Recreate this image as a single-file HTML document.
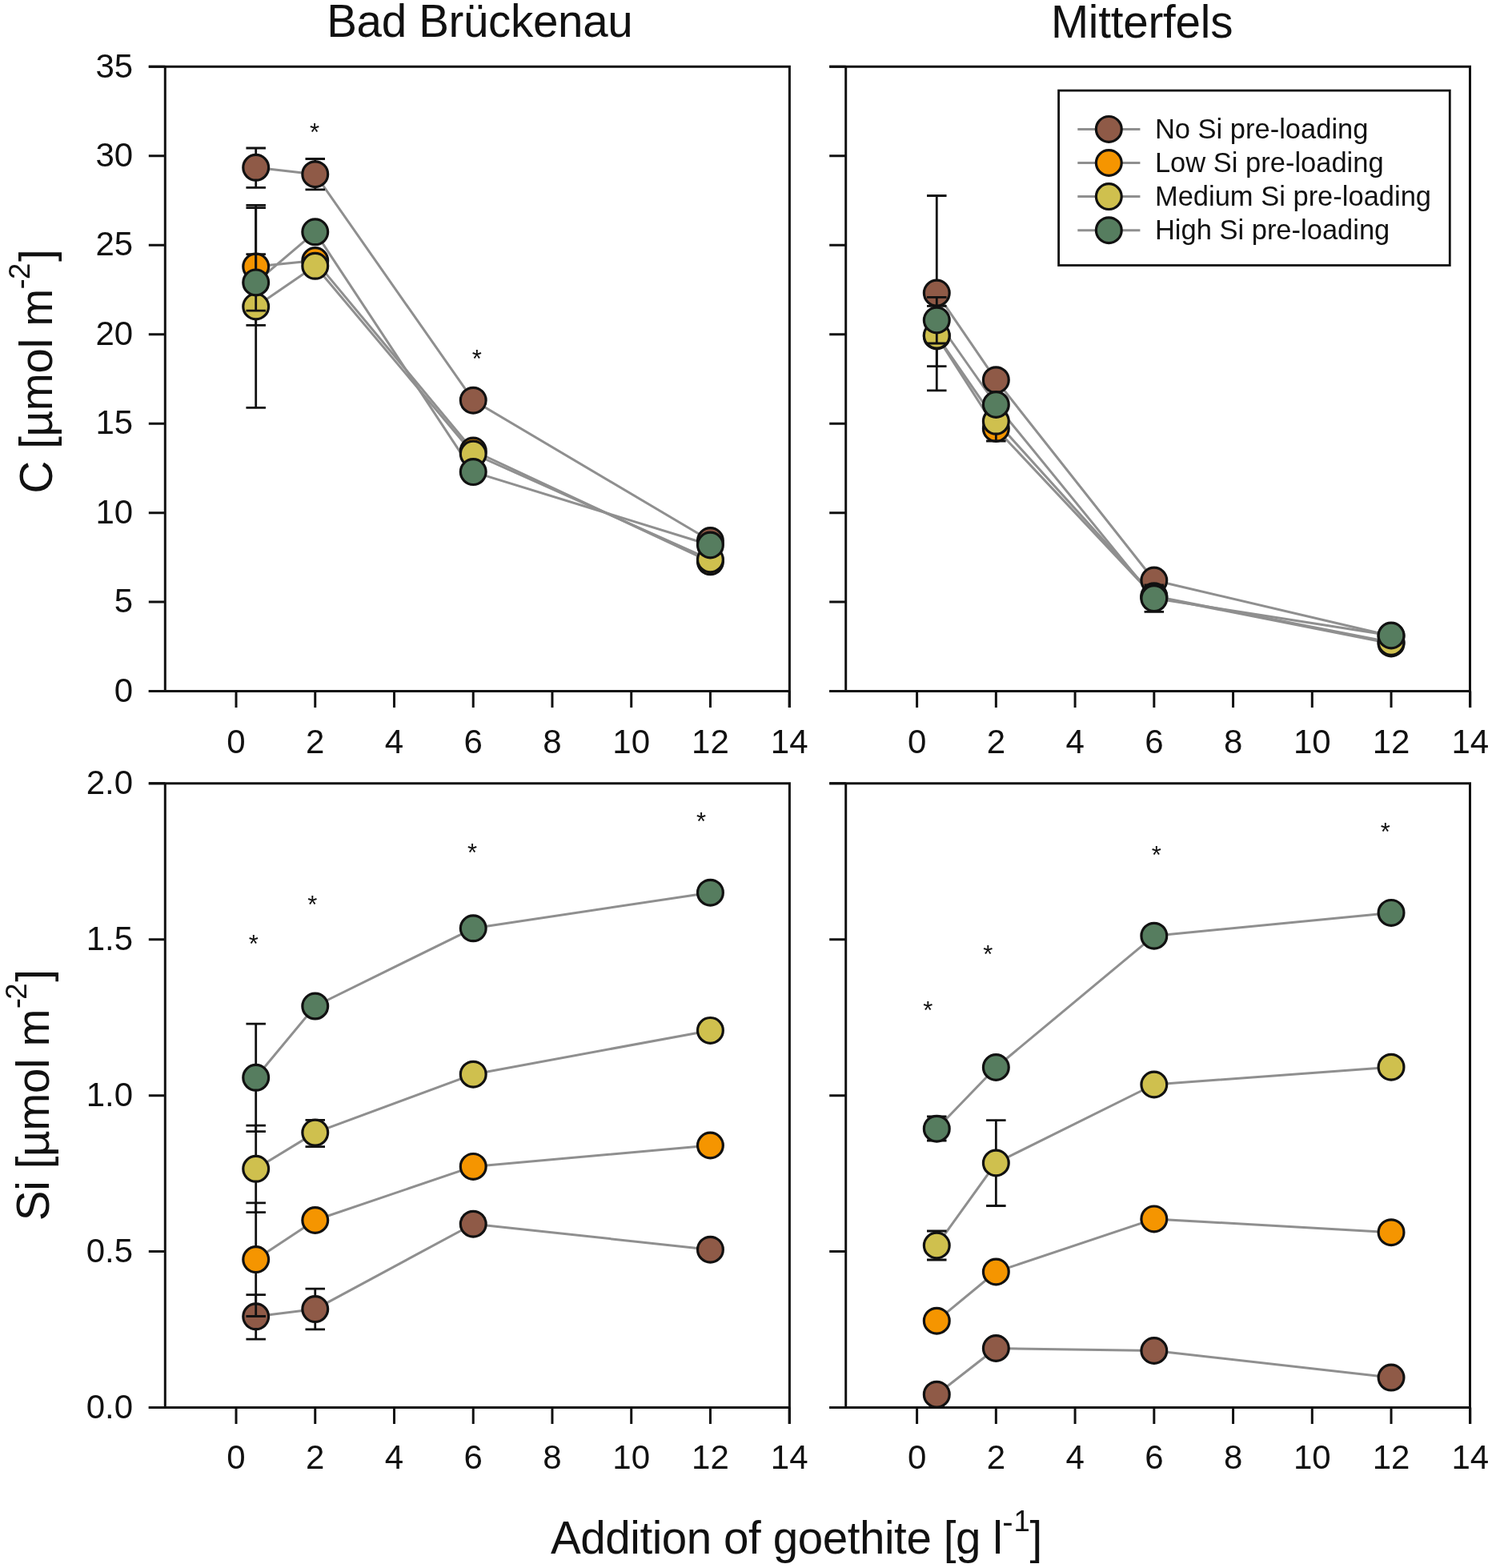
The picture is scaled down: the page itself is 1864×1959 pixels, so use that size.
<!DOCTYPE html>
<html><head><meta charset="utf-8"><title>Goethite C and Si</title>
<style>
html,body{margin:0;padding:0;background:#fff;}
svg{display:block;}
text{font-family:'Liberation Sans', Arial, sans-serif;fill:#111111;}
</style></head>
<body>
<svg width="1864" height="1959" viewBox="0 0 1864 1959">
<rect width="1864" height="1959" fill="#fff"/>
<path d="M206.3 83.2H986.4V884.1M185.8 863.6H986.4M206.3 83.2V863.6M185.8 83.2H206.3" fill="none" stroke="#111111" stroke-width="3.0" stroke-linecap="butt"/>
<path d="M185.8 863.6H206.3M185.8 752.11H206.3M185.8 640.63H206.3M185.8 529.14H206.3M185.8 417.66H206.3M185.8 306.17H206.3M185.8 194.69H206.3M185.8 83.2H206.3M295 863.6V884.1M393.74 863.6V884.1M492.48 863.6V884.1M591.22 863.6V884.1M689.96 863.6V884.1M788.7 863.6V884.1M887.44 863.6V884.1M986.18 863.6V884.1" fill="none" stroke="#111111" stroke-width="3.0"/>
<text x="166.1" y="876.9" text-anchor="end" font-size="42">0</text>
<text x="166.1" y="765.41" text-anchor="end" font-size="42">5</text>
<text x="166.1" y="653.93" text-anchor="end" font-size="42">10</text>
<text x="166.1" y="542.44" text-anchor="end" font-size="42">15</text>
<text x="166.1" y="430.96" text-anchor="end" font-size="42">20</text>
<text x="166.1" y="319.47" text-anchor="end" font-size="42">25</text>
<text x="166.1" y="207.99" text-anchor="end" font-size="42">30</text>
<text x="166.1" y="96.5" text-anchor="end" font-size="42">35</text>
<text x="295" y="940.5" text-anchor="middle" font-size="42">0</text>
<text x="393.74" y="940.5" text-anchor="middle" font-size="42">2</text>
<text x="492.48" y="940.5" text-anchor="middle" font-size="42">4</text>
<text x="591.22" y="940.5" text-anchor="middle" font-size="42">6</text>
<text x="689.96" y="940.5" text-anchor="middle" font-size="42">8</text>
<text x="788.7" y="940.5" text-anchor="middle" font-size="42">10</text>
<text x="887.44" y="940.5" text-anchor="middle" font-size="42">12</text>
<text x="986.18" y="940.5" text-anchor="middle" font-size="42">14</text>
<path d="M1056.7 83.2H1836.5V884.1M1036.2 863.6H1836.5M1056.7 83.2V863.6M1036.2 83.2H1056.7" fill="none" stroke="#111111" stroke-width="3.0" stroke-linecap="butt"/>
<path d="M1036.2 863.6H1056.7M1036.2 752.11H1056.7M1036.2 640.63H1056.7M1036.2 529.14H1056.7M1036.2 417.66H1056.7M1036.2 306.17H1056.7M1036.2 194.69H1056.7M1036.2 83.2H1056.7M1145.6 863.6V884.1M1244.34 863.6V884.1M1343.08 863.6V884.1M1441.82 863.6V884.1M1540.56 863.6V884.1M1639.3 863.6V884.1M1738.04 863.6V884.1M1836.78 863.6V884.1" fill="none" stroke="#111111" stroke-width="3.0"/>
<text x="1145.6" y="940.5" text-anchor="middle" font-size="42">0</text>
<text x="1244.34" y="940.5" text-anchor="middle" font-size="42">2</text>
<text x="1343.08" y="940.5" text-anchor="middle" font-size="42">4</text>
<text x="1441.82" y="940.5" text-anchor="middle" font-size="42">6</text>
<text x="1540.56" y="940.5" text-anchor="middle" font-size="42">8</text>
<text x="1639.3" y="940.5" text-anchor="middle" font-size="42">10</text>
<text x="1738.04" y="940.5" text-anchor="middle" font-size="42">12</text>
<text x="1836.78" y="940.5" text-anchor="middle" font-size="42">14</text>
<path d="M206.3 978.7H986.4V1779.1M185.8 1758.6H986.4M206.3 978.7V1758.6M185.8 978.7H206.3" fill="none" stroke="#111111" stroke-width="3.0" stroke-linecap="butt"/>
<path d="M185.8 1758.6H206.3M185.8 1563.62H206.3M185.8 1368.65H206.3M185.8 1173.67H206.3M185.8 978.7H206.3M295 1758.6V1779.1M393.74 1758.6V1779.1M492.48 1758.6V1779.1M591.22 1758.6V1779.1M689.96 1758.6V1779.1M788.7 1758.6V1779.1M887.44 1758.6V1779.1M986.18 1758.6V1779.1" fill="none" stroke="#111111" stroke-width="3.0"/>
<text x="166.1" y="1771.9" text-anchor="end" font-size="42">0.0</text>
<text x="166.1" y="1576.92" text-anchor="end" font-size="42">0.5</text>
<text x="166.1" y="1381.95" text-anchor="end" font-size="42">1.0</text>
<text x="166.1" y="1186.97" text-anchor="end" font-size="42">1.5</text>
<text x="166.1" y="992" text-anchor="end" font-size="42">2.0</text>
<text x="295" y="1835.4" text-anchor="middle" font-size="42">0</text>
<text x="393.74" y="1835.4" text-anchor="middle" font-size="42">2</text>
<text x="492.48" y="1835.4" text-anchor="middle" font-size="42">4</text>
<text x="591.22" y="1835.4" text-anchor="middle" font-size="42">6</text>
<text x="689.96" y="1835.4" text-anchor="middle" font-size="42">8</text>
<text x="788.7" y="1835.4" text-anchor="middle" font-size="42">10</text>
<text x="887.44" y="1835.4" text-anchor="middle" font-size="42">12</text>
<text x="986.18" y="1835.4" text-anchor="middle" font-size="42">14</text>
<path d="M1056.7 978.7H1836.5V1779.1M1036.2 1758.6H1836.5M1056.7 978.7V1758.6M1036.2 978.7H1056.7" fill="none" stroke="#111111" stroke-width="3.0" stroke-linecap="butt"/>
<path d="M1036.2 1758.6H1056.7M1036.2 1563.62H1056.7M1036.2 1368.65H1056.7M1036.2 1173.67H1056.7M1036.2 978.7H1056.7M1145.6 1758.6V1779.1M1244.34 1758.6V1779.1M1343.08 1758.6V1779.1M1441.82 1758.6V1779.1M1540.56 1758.6V1779.1M1639.3 1758.6V1779.1M1738.04 1758.6V1779.1M1836.78 1758.6V1779.1" fill="none" stroke="#111111" stroke-width="3.0"/>
<text x="1145.6" y="1835.4" text-anchor="middle" font-size="42">0</text>
<text x="1244.34" y="1835.4" text-anchor="middle" font-size="42">2</text>
<text x="1343.08" y="1835.4" text-anchor="middle" font-size="42">4</text>
<text x="1441.82" y="1835.4" text-anchor="middle" font-size="42">6</text>
<text x="1540.56" y="1835.4" text-anchor="middle" font-size="42">8</text>
<text x="1639.3" y="1835.4" text-anchor="middle" font-size="42">10</text>
<text x="1738.04" y="1835.4" text-anchor="middle" font-size="42">12</text>
<text x="1836.78" y="1835.4" text-anchor="middle" font-size="42">14</text>
<polyline points="319.69,209.3 393.74,217.7 591.22,500.2 887.44,675.5" fill="none" stroke="#8f8f8f" stroke-width="3.0" stroke-linejoin="round"/>
<polyline points="319.69,333 393.74,325.6 591.22,563 887.44,701.8" fill="none" stroke="#8f8f8f" stroke-width="3.0" stroke-linejoin="round"/>
<polyline points="319.69,383 393.74,332.3 591.22,567 887.44,699" fill="none" stroke="#8f8f8f" stroke-width="3.0" stroke-linejoin="round"/>
<polyline points="319.69,352.9 393.74,289.8 591.22,589.6 887.44,681" fill="none" stroke="#8f8f8f" stroke-width="3.0" stroke-linejoin="round"/>
<path d="M319.69 185V234.4M307.44 185H331.94M307.44 234.4H331.94" fill="none" stroke="#111111" stroke-width="2.8"/>
<path d="M393.74 198.5V236.8M381.49 198.5H405.99M381.49 236.8H405.99" fill="none" stroke="#111111" stroke-width="2.8"/>
<circle cx="319.69" cy="209.3" r="15.9" fill="#8f5a47" stroke="#111111" stroke-width="3.2"/>
<circle cx="393.74" cy="217.7" r="15.9" fill="#8f5a47" stroke="#111111" stroke-width="3.2"/>
<circle cx="591.22" cy="500.2" r="15.9" fill="#8f5a47" stroke="#111111" stroke-width="3.2"/>
<circle cx="887.44" cy="675.5" r="15.9" fill="#8f5a47" stroke="#111111" stroke-width="3.2"/>
<path d="M319.69 256.4V406.4M307.44 256.4H331.94M307.44 406.4H331.94" fill="none" stroke="#111111" stroke-width="2.8"/>
<circle cx="319.69" cy="333" r="15.9" fill="#f59500" stroke="#111111" stroke-width="3.2"/>
<circle cx="393.74" cy="325.6" r="15.9" fill="#f59500" stroke="#111111" stroke-width="3.2"/>
<circle cx="591.22" cy="563" r="15.9" fill="#f59500" stroke="#111111" stroke-width="3.2"/>
<circle cx="887.44" cy="701.8" r="15.9" fill="#f59500" stroke="#111111" stroke-width="3.2"/>
<path d="M319.69 259.6V509.4M307.44 259.6H331.94M307.44 509.4H331.94" fill="none" stroke="#111111" stroke-width="2.8"/>
<circle cx="319.69" cy="383" r="15.9" fill="#cfc04e" stroke="#111111" stroke-width="3.2"/>
<circle cx="393.74" cy="332.3" r="15.9" fill="#cfc04e" stroke="#111111" stroke-width="3.2"/>
<circle cx="591.22" cy="567" r="15.9" fill="#cfc04e" stroke="#111111" stroke-width="3.2"/>
<circle cx="887.44" cy="699" r="15.9" fill="#cfc04e" stroke="#111111" stroke-width="3.2"/>
<path d="M319.69 317.7V388.2M307.44 317.7H331.94M307.44 388.2H331.94" fill="none" stroke="#111111" stroke-width="2.8"/>
<circle cx="319.69" cy="352.9" r="15.9" fill="#567d5f" stroke="#111111" stroke-width="3.2"/>
<circle cx="393.74" cy="289.8" r="15.9" fill="#567d5f" stroke="#111111" stroke-width="3.2"/>
<circle cx="591.22" cy="589.6" r="15.9" fill="#567d5f" stroke="#111111" stroke-width="3.2"/>
<circle cx="887.44" cy="681" r="15.9" fill="#567d5f" stroke="#111111" stroke-width="3.2"/>
<polyline points="1170.28,366.1 1244.34,474.7 1441.82,725 1738.04,794.5" fill="none" stroke="#8f8f8f" stroke-width="3.0" stroke-linejoin="round"/>
<polyline points="1170.28,420 1244.34,535.4 1441.82,745.5 1738.04,804" fill="none" stroke="#8f8f8f" stroke-width="3.0" stroke-linejoin="round"/>
<polyline points="1170.28,419.2 1244.34,526.3 1441.82,744.8 1738.04,802.4" fill="none" stroke="#8f8f8f" stroke-width="3.0" stroke-linejoin="round"/>
<polyline points="1170.28,400 1244.34,505.5 1441.82,747.6 1738.04,794" fill="none" stroke="#8f8f8f" stroke-width="3.0" stroke-linejoin="round"/>
<path d="M1170.28 244.5V487.9M1158.03 244.5H1182.53M1158.03 487.9H1182.53" fill="none" stroke="#111111" stroke-width="2.8"/>
<circle cx="1170.28" cy="366.1" r="15.9" fill="#8f5a47" stroke="#111111" stroke-width="3.2"/>
<circle cx="1244.34" cy="474.7" r="15.9" fill="#8f5a47" stroke="#111111" stroke-width="3.2"/>
<circle cx="1441.82" cy="725" r="15.9" fill="#8f5a47" stroke="#111111" stroke-width="3.2"/>
<circle cx="1738.04" cy="794.5" r="15.9" fill="#8f5a47" stroke="#111111" stroke-width="3.2"/>
<path d="M1170.28 382.4V457.6M1158.03 382.4H1182.53M1158.03 457.6H1182.53" fill="none" stroke="#111111" stroke-width="2.8"/>
<circle cx="1170.28" cy="420" r="15.9" fill="#f59500" stroke="#111111" stroke-width="3.2"/>
<circle cx="1244.34" cy="535.4" r="15.9" fill="#f59500" stroke="#111111" stroke-width="3.2"/>
<circle cx="1441.82" cy="745.5" r="15.9" fill="#f59500" stroke="#111111" stroke-width="3.2"/>
<circle cx="1738.04" cy="804" r="15.9" fill="#f59500" stroke="#111111" stroke-width="3.2"/>
<path d="M1244.34 501.6V551M1232.09 501.6H1256.59M1232.09 551H1256.59" fill="none" stroke="#111111" stroke-width="2.8"/>
<circle cx="1170.28" cy="419.2" r="15.9" fill="#cfc04e" stroke="#111111" stroke-width="3.2"/>
<circle cx="1244.34" cy="526.3" r="15.9" fill="#cfc04e" stroke="#111111" stroke-width="3.2"/>
<circle cx="1441.82" cy="744.8" r="15.9" fill="#cfc04e" stroke="#111111" stroke-width="3.2"/>
<circle cx="1738.04" cy="802.4" r="15.9" fill="#cfc04e" stroke="#111111" stroke-width="3.2"/>
<path d="M1170.28 371.4V429M1158.03 371.4H1182.53M1158.03 429H1182.53" fill="none" stroke="#111111" stroke-width="2.8"/>
<path d="M1441.82 730.9V764.3M1429.57 730.9H1454.07M1429.57 764.3H1454.07" fill="none" stroke="#111111" stroke-width="2.8"/>
<circle cx="1170.28" cy="400" r="15.9" fill="#567d5f" stroke="#111111" stroke-width="3.2"/>
<circle cx="1244.34" cy="505.5" r="15.9" fill="#567d5f" stroke="#111111" stroke-width="3.2"/>
<circle cx="1441.82" cy="747.6" r="15.9" fill="#567d5f" stroke="#111111" stroke-width="3.2"/>
<circle cx="1738.04" cy="794" r="15.9" fill="#567d5f" stroke="#111111" stroke-width="3.2"/>
<polyline points="319.69,1644.8 393.74,1635.6 591.22,1529.2 887.44,1561.2" fill="none" stroke="#8f8f8f" stroke-width="3.0" stroke-linejoin="round"/>
<polyline points="319.69,1573.6 393.74,1524.5 591.22,1457.4 887.44,1431" fill="none" stroke="#8f8f8f" stroke-width="3.0" stroke-linejoin="round"/>
<polyline points="319.69,1460.3 393.74,1415.1 591.22,1342.2 887.44,1287.4" fill="none" stroke="#8f8f8f" stroke-width="3.0" stroke-linejoin="round"/>
<polyline points="319.69,1346.3 393.74,1257 591.22,1159.8 887.44,1115.2" fill="none" stroke="#8f8f8f" stroke-width="3.0" stroke-linejoin="round"/>
<path d="M319.69 1617.6V1673.1M307.44 1617.6H331.94M307.44 1673.1H331.94" fill="none" stroke="#111111" stroke-width="2.8"/>
<path d="M393.74 1610.2V1660.9M381.49 1610.2H405.99M381.49 1660.9H405.99" fill="none" stroke="#111111" stroke-width="2.8"/>
<circle cx="319.69" cy="1644.8" r="15.9" fill="#8f5a47" stroke="#111111" stroke-width="3.2"/>
<circle cx="393.74" cy="1635.6" r="15.9" fill="#8f5a47" stroke="#111111" stroke-width="3.2"/>
<circle cx="591.22" cy="1529.2" r="15.9" fill="#8f5a47" stroke="#111111" stroke-width="3.2"/>
<circle cx="887.44" cy="1561.2" r="15.9" fill="#8f5a47" stroke="#111111" stroke-width="3.2"/>
<path d="M319.69 1502.8V1644.5M307.44 1502.8H331.94M307.44 1644.5H331.94" fill="none" stroke="#111111" stroke-width="2.8"/>
<circle cx="319.69" cy="1573.6" r="15.9" fill="#f59500" stroke="#111111" stroke-width="3.2"/>
<circle cx="393.74" cy="1524.5" r="15.9" fill="#f59500" stroke="#111111" stroke-width="3.2"/>
<circle cx="591.22" cy="1457.4" r="15.9" fill="#f59500" stroke="#111111" stroke-width="3.2"/>
<circle cx="887.44" cy="1431" r="15.9" fill="#f59500" stroke="#111111" stroke-width="3.2"/>
<path d="M319.69 1406.1V1514.7M307.44 1406.1H331.94M307.44 1514.7H331.94" fill="none" stroke="#111111" stroke-width="2.8"/>
<path d="M393.74 1399.3V1432.6M381.49 1399.3H405.99M381.49 1432.6H405.99" fill="none" stroke="#111111" stroke-width="2.8"/>
<circle cx="319.69" cy="1460.3" r="15.9" fill="#cfc04e" stroke="#111111" stroke-width="3.2"/>
<circle cx="393.74" cy="1415.1" r="15.9" fill="#cfc04e" stroke="#111111" stroke-width="3.2"/>
<circle cx="591.22" cy="1342.2" r="15.9" fill="#cfc04e" stroke="#111111" stroke-width="3.2"/>
<circle cx="887.44" cy="1287.4" r="15.9" fill="#cfc04e" stroke="#111111" stroke-width="3.2"/>
<path d="M319.69 1279.2V1413.6M307.44 1279.2H331.94M307.44 1413.6H331.94" fill="none" stroke="#111111" stroke-width="2.8"/>
<circle cx="319.69" cy="1346.3" r="15.9" fill="#567d5f" stroke="#111111" stroke-width="3.2"/>
<circle cx="393.74" cy="1257" r="15.9" fill="#567d5f" stroke="#111111" stroke-width="3.2"/>
<circle cx="591.22" cy="1159.8" r="15.9" fill="#567d5f" stroke="#111111" stroke-width="3.2"/>
<circle cx="887.44" cy="1115.2" r="15.9" fill="#567d5f" stroke="#111111" stroke-width="3.2"/>
<polyline points="1170.28,1742.2 1244.34,1684.5 1441.82,1687.5 1738.04,1721.1" fill="none" stroke="#8f8f8f" stroke-width="3.0" stroke-linejoin="round"/>
<polyline points="1170.28,1650.2 1244.34,1589 1441.82,1522.9 1738.04,1539.7" fill="none" stroke="#8f8f8f" stroke-width="3.0" stroke-linejoin="round"/>
<polyline points="1170.28,1556 1244.34,1453 1441.82,1355 1738.04,1333.2" fill="none" stroke="#8f8f8f" stroke-width="3.0" stroke-linejoin="round"/>
<polyline points="1170.28,1410.2 1244.34,1333.5 1441.82,1169.2 1738.04,1140.4" fill="none" stroke="#8f8f8f" stroke-width="3.0" stroke-linejoin="round"/>
<circle cx="1170.28" cy="1742.2" r="15.9" fill="#8f5a47" stroke="#111111" stroke-width="3.2"/>
<circle cx="1244.34" cy="1684.5" r="15.9" fill="#8f5a47" stroke="#111111" stroke-width="3.2"/>
<circle cx="1441.82" cy="1687.5" r="15.9" fill="#8f5a47" stroke="#111111" stroke-width="3.2"/>
<circle cx="1738.04" cy="1721.1" r="15.9" fill="#8f5a47" stroke="#111111" stroke-width="3.2"/>
<circle cx="1170.28" cy="1650.2" r="15.9" fill="#f59500" stroke="#111111" stroke-width="3.2"/>
<circle cx="1244.34" cy="1589" r="15.9" fill="#f59500" stroke="#111111" stroke-width="3.2"/>
<circle cx="1441.82" cy="1522.9" r="15.9" fill="#f59500" stroke="#111111" stroke-width="3.2"/>
<circle cx="1738.04" cy="1539.7" r="15.9" fill="#f59500" stroke="#111111" stroke-width="3.2"/>
<path d="M1170.28 1538V1574M1158.03 1538H1182.53M1158.03 1574H1182.53" fill="none" stroke="#111111" stroke-width="2.8"/>
<path d="M1244.34 1399.6V1506.5M1232.09 1399.6H1256.59M1232.09 1506.5H1256.59" fill="none" stroke="#111111" stroke-width="2.8"/>
<circle cx="1170.28" cy="1556" r="15.9" fill="#cfc04e" stroke="#111111" stroke-width="3.2"/>
<circle cx="1244.34" cy="1453" r="15.9" fill="#cfc04e" stroke="#111111" stroke-width="3.2"/>
<circle cx="1441.82" cy="1355" r="15.9" fill="#cfc04e" stroke="#111111" stroke-width="3.2"/>
<circle cx="1738.04" cy="1333.2" r="15.9" fill="#cfc04e" stroke="#111111" stroke-width="3.2"/>
<path d="M1170.28 1395V1425M1158.03 1395H1182.53M1158.03 1425H1182.53" fill="none" stroke="#111111" stroke-width="2.8"/>
<circle cx="1170.28" cy="1410.2" r="15.9" fill="#567d5f" stroke="#111111" stroke-width="3.2"/>
<circle cx="1244.34" cy="1333.5" r="15.9" fill="#567d5f" stroke="#111111" stroke-width="3.2"/>
<circle cx="1441.82" cy="1169.2" r="15.9" fill="#567d5f" stroke="#111111" stroke-width="3.2"/>
<circle cx="1738.04" cy="1140.4" r="15.9" fill="#567d5f" stroke="#111111" stroke-width="3.2"/>
<text x="393" y="175.59" text-anchor="middle" font-size="31">*</text>
<text x="595.7" y="459.09" text-anchor="middle" font-size="31">*</text>
<text x="316.7" y="1190.09" text-anchor="middle" font-size="31">*</text>
<text x="390.2" y="1141.09" text-anchor="middle" font-size="31">*</text>
<text x="590" y="1075.99" text-anchor="middle" font-size="31">*</text>
<text x="876.1" y="1037.09" text-anchor="middle" font-size="31">*</text>
<text x="1159.2" y="1273.09" text-anchor="middle" font-size="31">*</text>
<text x="1234.3" y="1203.29" text-anchor="middle" font-size="31">*</text>
<text x="1444.9" y="1078.69" text-anchor="middle" font-size="31">*</text>
<text x="1730.9" y="1049.69" text-anchor="middle" font-size="31">*</text>
<rect x="1322.6" y="113.1" width="488.7" height="218.4" fill="#fff" stroke="#111111" stroke-width="2.8"/>
<path d="M1346.3 161.4H1424.4" stroke="#8f8f8f" stroke-width="3.0"/>
<circle cx="1385.3" cy="161.4" r="15.9" fill="#8f5a47" stroke="#111111" stroke-width="3.2"/>
<text x="1442.9" y="173.1" font-size="34.5">No Si pre-loading</text>
<path d="M1346.3 203.5H1424.4" stroke="#8f8f8f" stroke-width="3.0"/>
<circle cx="1385.3" cy="203.5" r="15.9" fill="#f59500" stroke="#111111" stroke-width="3.2"/>
<text x="1442.9" y="215.2" font-size="34.5">Low Si pre-loading</text>
<path d="M1346.3 245.6H1424.4" stroke="#8f8f8f" stroke-width="3.0"/>
<circle cx="1385.3" cy="245.6" r="15.9" fill="#cfc04e" stroke="#111111" stroke-width="3.2"/>
<text x="1442.9" y="257.3" font-size="34.5">Medium Si pre-loading</text>
<path d="M1346.3 287.7H1424.4" stroke="#8f8f8f" stroke-width="3.0"/>
<circle cx="1385.3" cy="287.7" r="15.9" fill="#567d5f" stroke="#111111" stroke-width="3.2"/>
<text x="1442.9" y="299.4" font-size="34.5">High Si pre-loading</text>
<text x="408.2" y="46.2" font-size="56.5" textLength="382.5" lengthAdjust="spacing">Bad Brückenau</text>
<text x="1313" y="47" font-size="56.5" textLength="227.4" lengthAdjust="spacing">Mitterfels</text>
<text x="688" y="1941" font-size="56.5" textLength="564.8" lengthAdjust="spacing">Addition of goethite [g l</text>
<text x="1252.2" y="1914.6" font-size="40">-</text>
<text x="1266.4" y="1913.3" font-size="36.5">1</text>
<text x="1286.4" y="1941" font-size="56.5">]</text>
<text transform="translate(65.2,616.6) rotate(-90)" x="0" y="0" font-size="56.5" textLength="256" lengthAdjust="spacing">C [µmol m</text>
<text transform="translate(38.95,361.5) rotate(-90)" x="0" y="0" font-size="40">-</text>
<text transform="translate(37.4,349) rotate(-90)" x="0" y="0" font-size="36.5">2</text>
<text transform="translate(64.8,327.1) rotate(-90)" x="0" y="0" font-size="56.5">]</text>
<text transform="translate(60.8,1525.2) rotate(-90)" x="0" y="0" font-size="56.5" textLength="264.9" lengthAdjust="spacing">Si [µmol m</text>
<text transform="translate(34.35,1260.3) rotate(-90)" x="0" y="0" font-size="40">-</text>
<text transform="translate(33.4,1248.7) rotate(-90)" x="0" y="0" font-size="36.5">2</text>
<text transform="translate(60.5,1226.7) rotate(-90)" x="0" y="0" font-size="56.5">]</text>
</svg>
</body></html>
